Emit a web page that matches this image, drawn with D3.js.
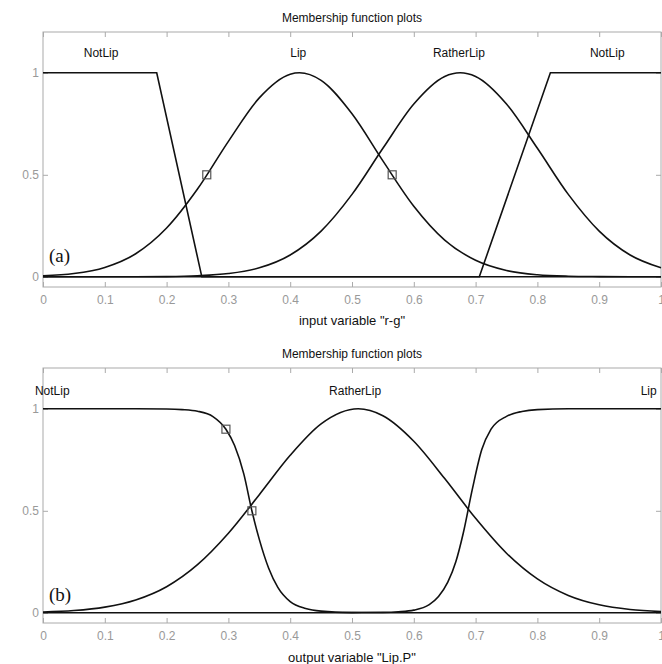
<!DOCTYPE html>
<html>
<head>
<meta charset="utf-8">
<script src="https://cdn.jsdelivr.net/npm/d3@7"></script>
<style>
  body { margin: 0; background: #fff; }
  text { font-family: "Liberation Sans", Arial, sans-serif; }
</style>
</head>
<body>
<div id="chart"></div>
<script>
// x ticks shared by both panels
const xTicks = [0, 0.1, 0.2, 0.3, 0.4, 0.5, 0.6, 0.7, 0.8, 0.9, 1];
const yTicks = [0, 0.5, 1];

// (a) input variable "r-g"
const rgNotLipLeft = [[0, 1], [0.184, 1], [0.257, 0], [1, 0]];
const rgLip = [[0, 0.005], [0.05, 0.016], [0.1, 0.046], [0.15, 0.113], [0.2, 0.239], [0.25, 0.43],
  [0.3, 0.664], [0.35, 0.877], [0.4, 0.993], [0.415, 1], [0.45, 0.963], [0.5, 0.799], [0.55, 0.568],
  [0.6, 0.346], [0.65, 0.18], [0.7, 0.081], [0.75, 0.031], [0.8, 0.01], [0.85, 0.003], [0.9, 0.001],
  [0.95, 0], [1, 0]];
const rgRatherLip = [[0, 0], [0.1, 0], [0.15, 0], [0.2, 0.001], [0.25, 0.005], [0.3, 0.016],
  [0.35, 0.044], [0.4, 0.107], [0.45, 0.224], [0.5, 0.404], [0.55, 0.63], [0.6, 0.847], [0.65, 0.982],
  [0.675, 1], [0.7, 0.982], [0.75, 0.847], [0.8, 0.63], [0.85, 0.404], [0.9, 0.224], [0.95, 0.107],
  [1, 0.044]];
const rgNotLipRight = [[0, 0], [0.706, 0], [0.821, 1], [1, 1]];
const rgLabels = [["NotLip", 0.094], ["Lip", 0.413], ["RatherLip", 0.673], ["NotLip", 0.913]];
const rgMarkers = [[0.265, 0.5], [0.565, 0.5]];

// (b) output variable "Lip.P"
const lpNotLip = [[0, 1], [0.15, 1], [0.2, 0.999], [0.225, 0.996], [0.25, 0.988], [0.275, 0.962],
  [0.296, 0.9], [0.31, 0.82], [0.325, 0.68], [0.338, 0.5], [0.35, 0.36], [0.365, 0.22], [0.38, 0.125],
  [0.4, 0.055], [0.425, 0.021], [0.45, 0.008], [0.5, 0.001], [0.55, 0], [1, 0]];
const lpRatherLip = [[0, 0.004], [0.05, 0.011], [0.1, 0.028], [0.15, 0.063], [0.2, 0.128],
  [0.25, 0.236], [0.3, 0.39], [0.35, 0.579], [0.4, 0.772], [0.45, 0.926], [0.51, 1], [0.55, 0.966],
  [0.6, 0.841], [0.65, 0.658], [0.7, 0.463], [0.75, 0.292], [0.8, 0.166], [0.85, 0.085], [0.9, 0.039],
  [0.95, 0.016], [1, 0.006]];
const lpLip = [[0, 0], [0.45, 0], [0.5, 0.001], [0.55, 0.002], [0.575, 0.005], [0.6, 0.013],
  [0.625, 0.04], [0.64, 0.08], [0.655, 0.15], [0.668, 0.25], [0.68, 0.39], [0.695, 0.61],
  [0.71, 0.8], [0.725, 0.9], [0.75, 0.963], [0.775, 0.987], [0.8, 0.996], [0.85, 1], [1, 1]];
const lpLabels = [["NotLip", 0.015], ["RatherLip", 0.505], ["Lip", 0.98]];
const lpMarkers = [[0.296, 0.9], [0.338, 0.5]];

const width = 662, height = 664;
const svg = d3.select("#chart").append("svg")
    .attr("width", width)
    .attr("height", height);

const x = d3.scaleLinear().domain([0, 1]).range([43, 661]);

function drawPanel(p) {
    let y = d3.scaleLinear().domain([-0.05, 1.2]).range([p.bottom, p.top]);
    let g = svg.append("g");

    // frame
    g.append("rect")
        .attr("x", x(0)).attr("y", p.top)
        .attr("width", x(1) - x(0)).attr("height", p.bottom - p.top)
        .attr("fill", "none").attr("stroke", "#aaa");

    let axes = [
        [d3.axisBottom(x).tickValues(xTicks).tickFormat(d3.format("")), p.bottom],
        [d3.axisTop(x).tickValues(xTicks).tickFormat(""), p.top],
    ];
    axes.forEach(a => {
        g.append("g")
            .attr("transform", "translate(0," + a[1] + ")")
            .call(a[0].tickSize(-5).tickPadding(8))
            .call(s => s.select(".domain").remove());
    });
    g.append("g")
        .attr("transform", "translate(" + x(0) + ",0)")
        .call(d3.axisLeft(y).tickValues(yTicks).tickFormat(d3.format("")).tickSize(-5).tickPadding(4))
        .call(s => s.select(".domain").remove());
    g.append("g")
        .attr("transform", "translate(" + x(1) + ",0)")
        .call(d3.axisRight(y).tickValues(yTicks).tickFormat("").tickSize(-5))
        .call(s => s.select(".domain").remove());

    g.selectAll(".tick line").attr("stroke", "#aaa");
    g.selectAll(".tick text")
        .attr("fill", "#999")
        .style("font-size", "12px")
        .style("font-family", "Liberation Sans, Arial, sans-serif");

    // membership curves
    p.series.forEach(s => {
        let line = d3.line()
            .x(d => x(d[0]))
            .y(d => y(d[1]))
            .curve(s.curve);
        g.append("path")
            .datum(s.data)
            .attr("d", line)
            .attr("fill", "none")
            .attr("stroke", "#111")
            .attr("stroke-width", 1.6);
    });

    // selected points
    g.selectAll(".mk")
        .data(p.markers)
        .enter().append("rect")
        .attr("x", d => x(d[0]) - 4)
        .attr("y", d => y(d[1]) - 4)
        .attr("width", 8).attr("height", 8)
        .attr("fill", "none")
        .attr("stroke", "#555")
        .attr("stroke-width", 1.2);

    g.selectAll(".lbl")
        .data(p.labels)
        .enter().append("text")
        .attr("x", d => x(d[1]))
        .attr("y", p.labelY)
        .attr("text-anchor", "middle")
        .style("font-size", "12px")
        .attr("fill", "#111")
        .text(d => d[0]);

    g.append("text")
        .attr("x", x(0.5)).attr("y", p.titleY)
        .attr("text-anchor", "middle")
        .style("font-size", "12px")
        .attr("fill", "#111")
        .text("Membership function plots");

    g.append("text")
        .attr("x", x(0.5)).attr("y", p.xlabelY)
        .attr("text-anchor", "middle")
        .style("font-size", "13px")
        .attr("fill", "#111")
        .text(p.xlabel);

    g.append("text")
        .attr("x", 49).attr("y", p.tagY)
        .style("font-family", "Liberation Serif, Times New Roman, serif")
        .style("font-size", "19px")
        .attr("fill", "#111")
        .text(p.tag);
}

drawPanel({
    top: 32, bottom: 287,
    series: [
        {data: rgNotLipLeft, curve: d3.curveLinear},
        {data: rgLip, curve: d3.curveMonotoneX},
        {data: rgRatherLip, curve: d3.curveMonotoneX},
        {data: rgNotLipRight, curve: d3.curveLinear}
    ],
    markers: rgMarkers,
    labels: rgLabels,
    labelY: 57, titleY: 22, xlabelY: 325, tagY: 262,
    xlabel: 'input variable "r-g"', tag: "(a)"
});

drawPanel({
    top: 368, bottom: 623,
    series: [
        {data: lpNotLip, curve: d3.curveMonotoneX},
        {data: lpRatherLip, curve: d3.curveMonotoneX},
        {data: lpLip, curve: d3.curveMonotoneX}
    ],
    markers: lpMarkers,
    labels: lpLabels,
    labelY: 395, titleY: 358, xlabelY: 662, tagY: 601,
    xlabel: 'output variable "Lip.P"', tag: "(b)"
});
</script>
</body>
</html>
